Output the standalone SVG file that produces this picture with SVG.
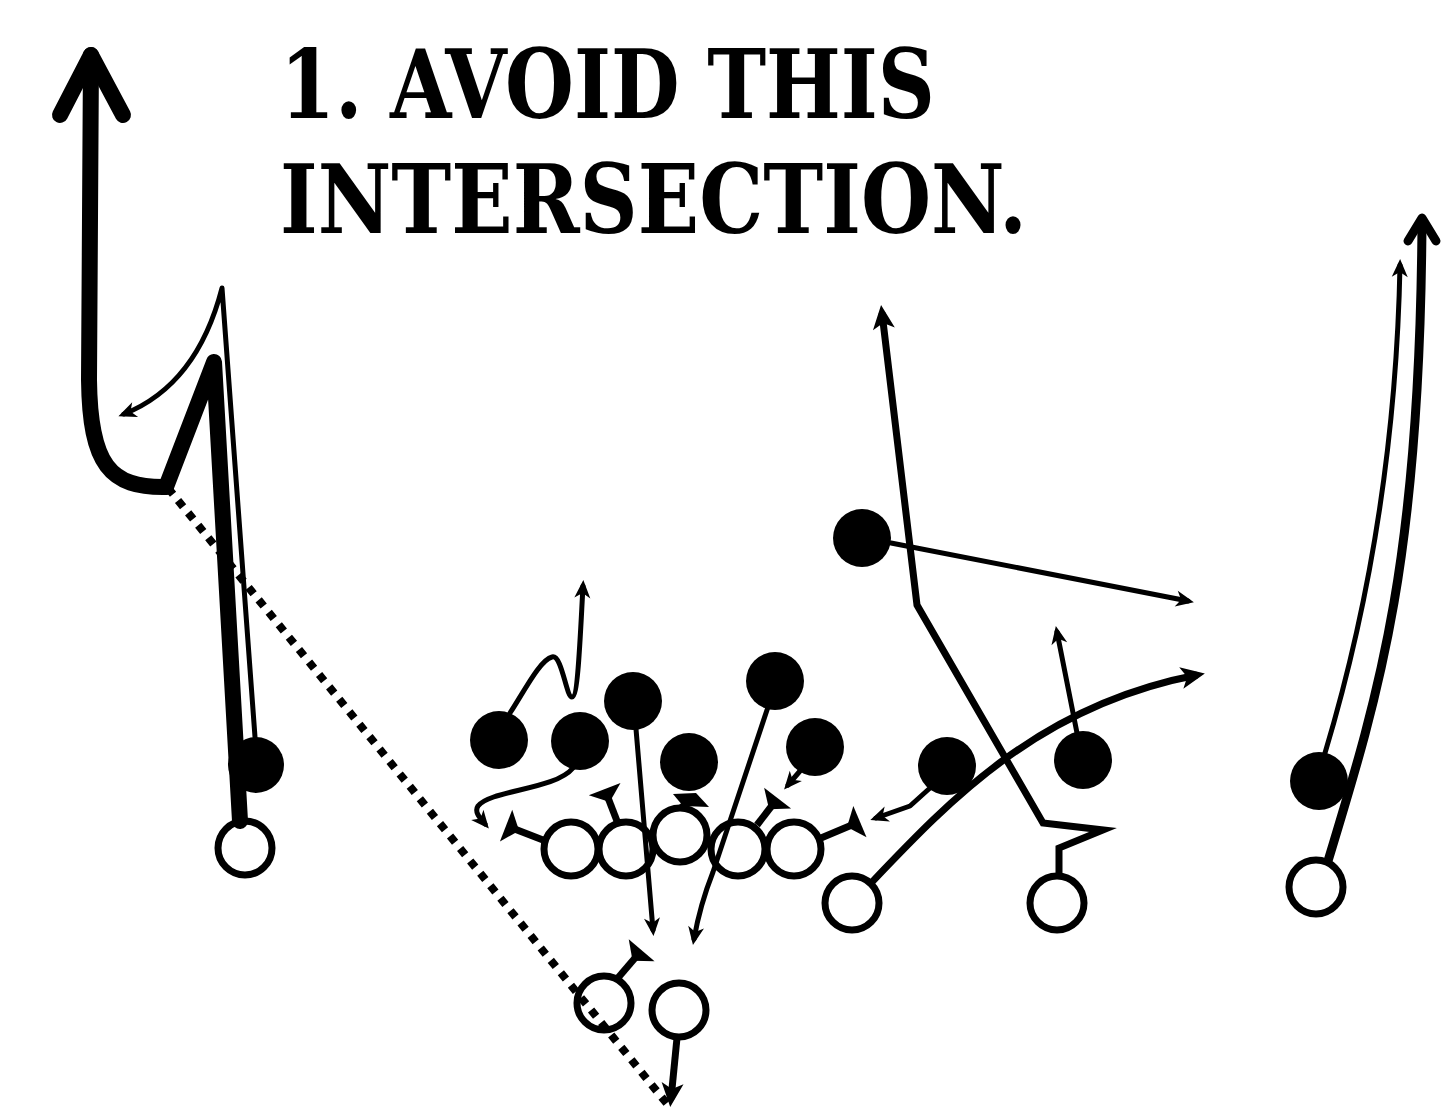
<svg xmlns="http://www.w3.org/2000/svg" width="1446" height="1107" viewBox="0 0 1446 1107">
<style>
.title{font-family:"DejaVu Serif Condensed","DejaVu Serif","Liberation Serif",serif;font-weight:bold;font-size:95px;fill:#000}
.off{fill:#fff;stroke:#000;stroke-width:7}
.def{fill:#000}
.thin{fill:none;stroke:#000;stroke-width:5;stroke-linecap:round;stroke-linejoin:round}
.med{fill:none;stroke:#000;stroke-width:7;stroke-linejoin:miter;stroke-miterlimit:10}
.blkl{fill:none;stroke:#000;stroke-width:7}
.thick{fill:none;stroke:#000;stroke-linecap:round;stroke-linejoin:round}
.dots{fill:none;stroke:#000;stroke-width:8;stroke-dasharray:8 8}
</style>
<defs>
<marker id="ah" viewBox="-20 -10 28 20" refX="0" refY="0" markerWidth="28" markerHeight="20" markerUnits="userSpaceOnUse" orient="auto">
<path d="M6,0 L-12,-8 L-7,0 L-12,8 Z" fill="#000"/>
</marker>
<marker id="ahL" viewBox="-24 -12 34 24" refX="0" refY="0" markerWidth="34" markerHeight="24" markerUnits="userSpaceOnUse" orient="auto">
<path d="M8,0 L-16,-11 L-10,0 L-16,11 Z" fill="#000"/>
</marker>
<marker id="blk" viewBox="-16 -20 20 40" refX="0" refY="0" markerWidth="20" markerHeight="40" markerUnits="userSpaceOnUse" orient="auto">
<path d="M1,-17 L1,17 L-13,0 Z" fill="#000"/>
</marker>
</defs>
<rect width="1446" height="1107" fill="#fff"/>

<g id="title">
<text class="title" x="280" y="118" textLength="655" lengthAdjust="spacingAndGlyphs">1. AVOID THIS</text>
<text class="title" x="280" y="233" textLength="747" lengthAdjust="spacingAndGlyphs">INTERSECTION.</text>
</g>

<g id="offense">
<circle id="wr-left" class="off" cx="245" cy="848" r="27"/>
<circle id="lt" class="off" cx="571" cy="849" r="27"/>
<circle id="lg" class="off" cx="626" cy="849" r="27"/>
<circle id="rg" class="off" cx="738" cy="849" r="27"/>
<circle id="rt" class="off" cx="794" cy="849" r="27"/>
<circle id="center" class="off" cx="680" cy="835" r="27"/>
<circle id="te" class="off" cx="852" cy="903" r="27"/>
<circle id="slot" class="off" cx="1057" cy="903" r="27"/>
<circle id="wr-right" class="off" cx="1316" cy="887" r="27"/>
<circle id="back-left" class="off" cx="604" cy="1003" r="27"/>
<circle id="back-right" class="off" cx="679" cy="1010" r="27"/>
</g>

<g id="defense">
<circle id="cb-left" class="def" cx="256" cy="765" r="28"/>
<circle id="d1" class="def" cx="499" cy="740" r="29"/>
<circle id="d2" class="def" cx="580" cy="741" r="29"/>
<circle id="d3" class="def" cx="633" cy="701" r="29"/>
<circle id="d4" class="def" cx="689" cy="762" r="29"/>
<circle id="d5" class="def" cx="775" cy="681" r="29"/>
<circle id="d6" class="def" cx="815" cy="747" r="29"/>
<circle id="de" class="def" cx="947" cy="766" r="29"/>
<circle id="lb" class="def" cx="1083" cy="760" r="29"/>
<circle id="safety" class="def" cx="862" cy="538" r="29"/>
<circle id="cb-right" class="def" cx="1319" cy="781" r="29"/>
</g>

<g id="connectors">
<path class="dots" d="M168,488 L668,1105"/>
<path class="thick" stroke-width="16" stroke-linejoin="miter" stroke-miterlimit="10" stroke-linecap="butt" d="M240,821 L214,362 L166,487"/>
<path class="thick" stroke-width="16" d="M166,487 C110,488 90,465 89,380 L91,55"/>
<path class="thick" stroke-width="16" d="M60,115 L91,55 L123,115"/>
<path class="thin" marker-end="url(#ah)" d="M255,737 L222,288 Q197,385 124,414"/>
<path class="blkl" marker-end="url(#blk)" d="M543,840 L507,826"/>
<path class="blkl" marker-end="url(#blk)" d="M617,821 L605,790"/>
<path class="blkl" d="M681,808 L688,802"/>
<polygon points="673,794 696,793 709,807 683,806" fill="#000"/>
<path class="blkl" marker-end="url(#blk)" d="M757,825 L777,799"/>
<path class="blkl" marker-end="url(#blk)" d="M821,838 L859,822"/>
<path class="blkl" marker-end="url(#blk)" d="M617,979 L641,951"/>
<path class="thin" marker-end="url(#ah)" d="M510,713 C525,690 540,660 552,657 C562,654 566,697 572,697 C578,697 580,640 583,586"/>
<path class="thin" marker-end="url(#ah)" d="M573,768 C555,790 490,790 478,806 C474,812 480,818 485,824"/>
<path class="thin" marker-end="url(#ah)" d="M636,729 L653,930"/>
<path class="thin" marker-end="url(#ah)" d="M768,707 L713,872 Q700,905 694,939"/>
<path class="thin" marker-end="url(#ah)" d="M800,771 L788,785"/>
<path class="thin" marker-end="url(#ah)" d="M930,788 L910,806 L876,818"/>
<path class="thin" marker-end="url(#ah)" d="M1077,733 L1057,632"/>
<path class="thin" marker-end="url(#ah)" d="M891,543 L1188,601"/>
<path class="thin" marker-end="url(#ah)" d="M1325,753 Q1395,520 1400,265"/>
<path class="med" marker-end="url(#ahL)" d="M872,882 C950,800 1040,705 1197,675"/>
<path class="med" marker-end="url(#ahL)" d="M1059,876 L1059,848 L1103,830 L1043,823 L917,605 L882,313"/>
<path class="med" marker-end="url(#ahL)" d="M677,1038 L671,1099"/>
<path class="thick" stroke-width="9" d="M1328,861 C1380,690 1420,560 1422,222"/>
<path class="thick" stroke-width="9" d="M1408,241 L1422,218 L1436,241"/>
</g>
</svg>
